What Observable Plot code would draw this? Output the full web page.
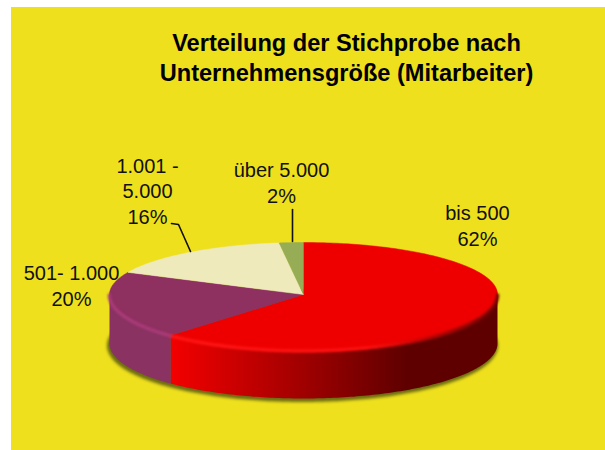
<!DOCTYPE html>
<html>
<head>
<meta charset="utf-8">
<script src="https://cdn.jsdelivr.net/npm/d3@7"></script>
<script src="https://cdn.jsdelivr.net/npm/@observablehq/plot@0.6"></script>
<style>
html,body{margin:0;padding:0;background:#fff}
#chart{position:absolute;left:11px;top:7px}
#chart svg{display:block;background:#eee01c}
</style>
</head>
<body>
<div id="chart"></div>
<script>
const categories = ["bis 500", "501- 1.000", "1.001 - 5.000", "über 5.000"];
const shares = [62, 20, 16, 2];
const topColors = ["#ee0000", "#8e3060", "#eeeabb", "#96ac55"];
const wallColors = ["url(#redWall)", "#8a3262", "#e0dca8", "#8a9e4c"];
const rimColors = ["url(#redRim)", "#a83a78", "#eeeabb", "#96ac55"];
const labelTexts = ["bis 500\n62%", "501- 1.000\n20%", "1.001 -\n5.000\n16%", "über 5.000\n2%"];
const labelX = [477, 71, 147, 281];
const labelY = [245, 305, 223, 202];
const titleLines = "Verteilung der Stichprobe nach\nUnternehmensgröße (Mitarbeiter)";
const leaderSegments = [
  [[292, 209], [292, 241]],
  [[171, 223], [178, 224], [190, 251]]
];

const cx = 303, rx = 194, topY = 294, ryBack = 52, ryFront = 56, baseY = 343, ryBase = 55;
const rad = d => d * Math.PI / 180;
const topPt = d => {
  const c = Math.cos(rad(d));
  return {x: cx + rx * Math.sin(rad(d)), y: topY - c * (c > 0 ? ryBack : ryFront)};
};
const basePt = d => ({x: cx + rx * Math.sin(rad(d)), y: baseY - ryBase * Math.cos(rad(d))});
const sweep = (a, b) => [...d3.range(a, b, 1), b];

const total = d3.sum(shares);
let acc = 0;
const slices = shares.map((v, i) => {
  const start = acc / total * 360;
  acc += v;
  return {i, start, end: acc / total * 360};
});
const arcFront = s => [Math.max(s.start, 90), Math.min(s.end, 270)];

const topMarks = slices.map(s =>
  Plot.line([{x: cx, y: topY}, ...sweep(s.start, s.end).map(topPt)], {
    x: "x", y: "y", fill: topColors[s.i], stroke: topColors[s.i], strokeWidth: 0.5
  }));
const front = slices.filter(s => arcFront(s)[0] < arcFront(s)[1]);
const wallMarks = front.map(s => {
  const [a, b] = arcFront(s);
  return Plot.line([...sweep(a, b).map(topPt), ...sweep(a, b).reverse().map(basePt)], {
    x: "x", y: "y", fill: wallColors[s.i], stroke: "none"
  });
});
const rimMarks = front.map(s => {
  const [a, b] = arcFront(s);
  return Plot.line(sweep(a, b).map(topPt), {
    x: "x", y: d => d.y + 0.5, stroke: rimColors[s.i], strokeWidth: 3.5, imageFilter: "blur(0.8px)"
  });
});

const gradient = (defs, id, stops) => {
  const g = defs.append("linearGradient").attr("id", id).attr("x1", 0).attr("x2", 1).attr("y1", 0).attr("y2", 0);
  stops.forEach(([o, c]) => g.append("stop").attr("offset", o).attr("stop-color", c));
};
const defsMark = () => {
  const defs = d3.create("svg:defs");
  gradient(defs, "redWall", [[0, "#f40000"], [0.72, "#5f0000"], [1, "#5f0000"]]);
  gradient(defs, "redRim", [[0, "#ff1414"], [0.6, "#ff1010"], [0.82, "#b80000"], [1, "#780000"]]);
  return defs.node();
};

const chart = Plot.plot({
  width: 594, height: 443,
  margin: 0,
  x: {domain: [11, 605], range: [0, 594], axis: null},
  y: {domain: [7, 450], range: [0, 443], axis: null},
  marks: [
    defsMark,
    Plot.line(sweep(0, 360).map(basePt), {
      x: d => d.x - 1, y: d => d.y + 2, fill: "#6e6c10", stroke: "#6e6c10", strokeWidth: 3, imageFilter: "blur(1.5px)"
    }),
    ...wallMarks,
    ...topMarks,
    ...rimMarks,
    ...leaderSegments.map(seg => Plot.line(seg, {x: d => d[0], y: d => d[1], stroke: "#111", strokeWidth: 1.6})),
    Plot.text(labelTexts, {
      x: (d, i) => labelX[i], y: (d, i) => labelY[i], text: d => d,
      fontFamily: "Liberation Sans", fontSize: 20, lineHeight: 1.27, lineAnchor: "bottom",
      textAnchor: "middle", fill: "#111"
    }),
    Plot.text([titleLines], {
      x: () => 346, y: () => 80, text: d => d,
      fontFamily: "Liberation Sans", fontSize: 23.6, fontWeight: "bold", lineHeight: 1.27, lineAnchor: "bottom",
      textAnchor: "middle", fill: "#000"
    })
  ]
});
document.getElementById("chart").appendChild(chart);
</script>
</body>
</html>
